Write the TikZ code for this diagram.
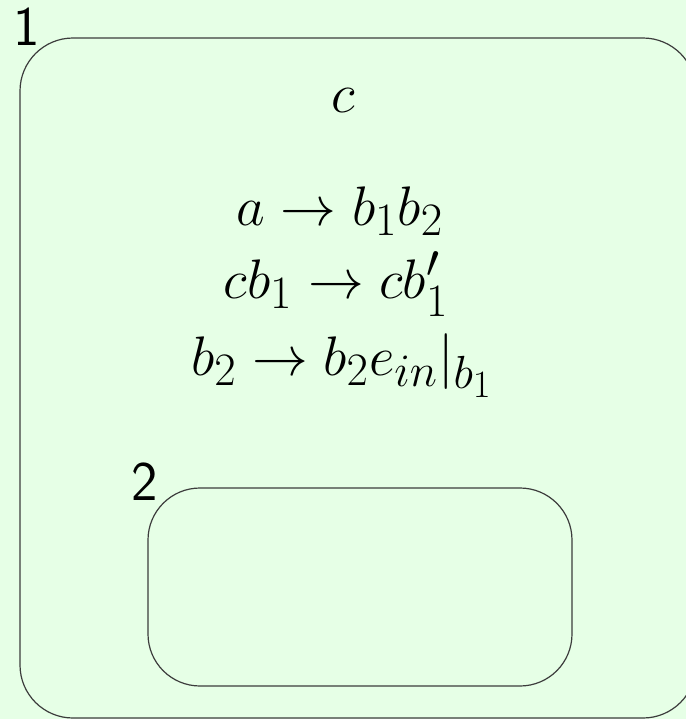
\documentclass[tikz,border=0pt]{standalone}
\usepackage{amsmath,amssymb}
\usepackage{tikz}
\usetikzlibrary{positioning}
\definecolor{PaleGreen}{HTML}{E6FFE6}
\definecolor{EdgeGray}{HTML}{3C3C3C}
\tikzset{
  region/.style={draw=EdgeGray,line width=0.6pt,rounded corners=26.5pt,
                 inner sep=0pt,outer sep=0pt},
  tag/.style={font=\sffamily\fontsize{28}{34}\selectfont,inner sep=0pt,anchor=base},
  rule/.style={font=\fontsize{24.88}{30}\selectfont,inner sep=0pt,anchor=base,
               scale=1.12,transform shape}
}

\begin{document}
\begin{tikzpicture}[x=0.5pt,y=-0.5pt]
  \fill[PaleGreen] (0,0) rectangle (686,719);
  \useasboundingbox (0,0) rectangle (686,719);

  % outer region 1
  \node[region,minimum width=338pt,minimum height=340pt] (outer) at (358,378) {};
  \node[tag] (lab1) at (27,45) {1};
  \node[rule] (state) at (343,112) {$c$};
  \node[rule] (r1) at (340,225) {$a \rightarrow b_1b_2$};
  \node[rule] (r2) at (336,298) {$cb_1 \rightarrow cb_1'$};
  \node[rule] (r3) at (342,375) {$b_2 \rightarrow b_2e_{in}|_{b_1}$};

  % inner region 2
  \node[region,minimum width=212pt,minimum height=99pt,rounded corners=26pt] (inner) at (360,587) {};
  \node[tag] (lab2) at (145,500) {2};
\end{tikzpicture}
\end{document}
